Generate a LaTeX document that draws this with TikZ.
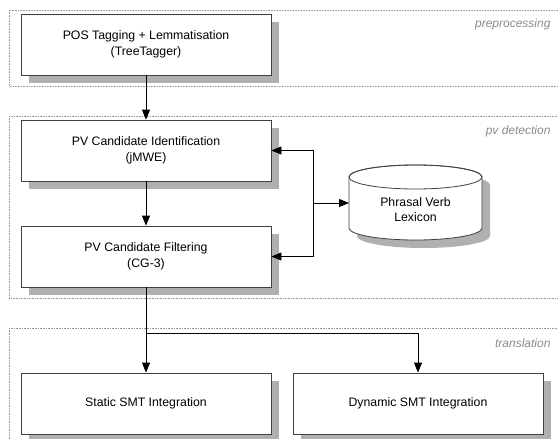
\documentclass[tikz,border=0pt]{standalone}
\usepackage{fontspec}
\setmainfont{Liberation Sans}
\usetikzlibrary{arrows.meta,shadows}
\definecolor{boxline}{HTML}{404040}
\definecolor{shadowgray}{HTML}{B0B0B0}
\definecolor{labelgray}{HTML}{8A8A8A}
\definecolor{groupline}{HTML}{9A9A9A}
\tikzset{
  stage/.style={rectangle, draw=boxline, line width=0.8pt, fill=white,
    minimum width=250pt, minimum height=61pt, align=center,
    font=\fontsize{12.3}{15.5}\selectfont,
    drop shadow={shadow xshift=8pt, shadow yshift=-8pt, fill=shadowgray, opacity=1}},
  storeline/.style={draw=boxline, line width=0.8pt, fill=white},
  storetext/.style={align=center, font=\fontsize{12.3}{15}\selectfont},
  group/.style={draw=groupline, densely dotted, line width=0.6pt},
  grouplabel/.style={anchor=east, text=labelgray, font=\fontsize{12}{14}\selectfont\itshape},
  arr/.style={draw=black, line width=0.8pt, -{Triangle[length=10pt,width=8pt]}}
}
% outline of a vertical cylinder: left x, right x, top-ellipse centre y, bottom-ellipse centre y
\newcommand\cylbody[4]{%
  (#1,#4) arc[start angle=180, end angle=360, x radius=66.5pt, y radius=12pt]
  -- (#2,#3) arc[start angle=0, end angle=180, x radius=66.5pt, y radius=12pt] -- cycle}
\begin{document}
\begin{tikzpicture}[x=1pt,y=-1pt]
  \useasboundingbox (0,0) rectangle (558,439);

  % processing phases
  \draw[group] (9,10) rectangle (565,86);
  \draw[group] (9,116) rectangle (565,298);
  \draw[group] (9,328) rectangle (565,450);
  \node[grouplabel] (lpre) at (554,24) {preprocessing};
  \node[grouplabel] (lpv) at (554,131) {pv detection};
  \node[grouplabel] (ltr) at (554,343) {translation};

  % stages
  \node[stage] (pos) at (146,44.5) {POS Tagging + Lemmatisation\\(TreeTagger)};
  \node[stage] (ident) at (146,150.5) {PV Candidate Identification\\(jMWE)};
  \node[stage] (filter) at (146,256.5) {PV Candidate Filtering\\(CG-3)};
  \node[stage] (static) at (146,403.5) {Static SMT Integration};
  \node[stage] (dynamic) at (418,403.5) {Dynamic SMT Integration};

  % lexicon drum with its shadow
  \fill[shadowgray] \cylbody{357}{490}{185}{236};
  \path[storeline] \cylbody{349}{482}{177}{228};
  \draw[boxline, line width=0.8pt] (415.5,177) ellipse[x radius=66.5pt, y radius=12pt];
  \node[storetext] (lex) at (415.5,210) {Phrasal Verb\\Lexicon};
  \coordinate (lexw) at (349,203);

  % data flow
  \draw[arr] (pos.south) -- (ident.north);
  \draw[arr] (ident.south) -- (filter.north);
  \coordinate (hub) at (313,203);
  \draw[arr] (hub) -- (lexw);
  \draw[arr] (hub) |- (ident.east);
  \draw[arr] (hub) |- (filter.east);
  \draw[arr] (filter.south) -- (static.north);
  \coordinate (fork) at (146,333);
  \draw[arr] (fork) -| (dynamic.north);
\end{tikzpicture}
\end{document}
